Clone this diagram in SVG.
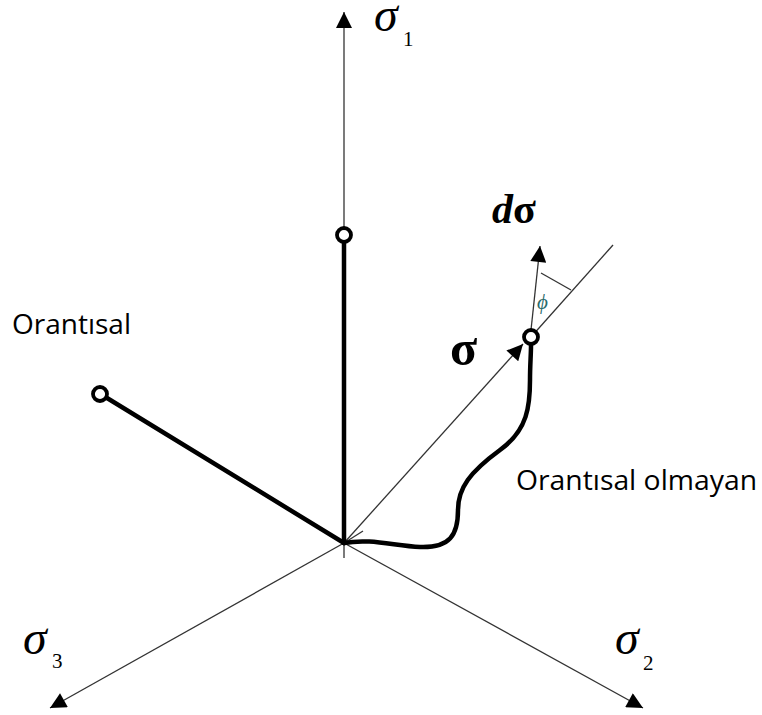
<svg xmlns="http://www.w3.org/2000/svg" width="762" height="715" viewBox="0 0 762 715">
<style>
.thin{stroke:#333;stroke-width:1.3;fill:none}
.thick{stroke:#000;stroke-width:4.5;fill:none;stroke-linecap:round}
.node{fill:#fff;stroke:#000;stroke-width:3.8}
.greek{font-family:"Liberation Serif",serif;font-style:italic;fill:#000}
.sub{font-family:"Liberation Serif",serif;fill:#000}
.lbl{font-family:"Open Sans","Liberation Sans",sans-serif;font-size:28px;fill:#000}
</style>
<defs>
<marker id="ahL" viewBox="0 0 10 10" refX="10" refY="5" markerWidth="20" markerHeight="16" markerUnits="userSpaceOnUse" orient="auto">
<path d="M0,0 L10,5 L0,10 z" fill="#000"/>
</marker>
</defs>
<g id="connectors">
<line id="axis1" class="thin" x1="344" y1="558" x2="344" y2="12" marker-end="url(#ahL)"/>
<line id="axis3" class="thin" x1="344" y1="543" x2="50" y2="708" marker-end="url(#ahL)"/>
<line id="axis2" class="thin" x1="344" y1="543" x2="643" y2="708" marker-end="url(#ahL)"/>
<line id="sigma-vec" class="thin" x1="344" y1="543" x2="523" y2="344" marker-end="url(#ahL)"/>
<line class="thin" x1="344" y1="543" x2="363" y2="531"/>
<line id="normal" class="thin" x1="531" y1="337" x2="613" y2="245"/>
<line id="dsigma" class="thin" x1="531" y1="330" x2="540" y2="246" marker-end="url(#ahL)"/>
<line id="phi-mark" class="thin" x1="541" y1="273" x2="571" y2="290"/>
<line id="prop-vert" class="thick" x1="344" y1="543" x2="344" y2="242"/>
<line id="prop-left" class="thick" x1="344" y1="543" x2="107" y2="398"/>
<path id="nonprop" class="thick" d="M344,543 C370,538 395,546 420,547 C450,548 458,535 458,510 C458,488 470,472 500,450 C528,430 530,405 530,380 C530,365 531,355 531,345"/>
</g>
<g id="n-top"><circle class="node" cx="344" cy="235" r="7"/></g>
<g id="n-left"><circle class="node" cx="100" cy="394" r="7"/></g>
<g id="n-right"><circle class="node" cx="531" cy="337" r="7"/></g>
<g id="labels">
<text class="greek" x="374" y="31" font-size="48">σ</text>
<text class="sub" x="403" y="46" font-size="21">1</text>
<text class="greek" x="23" y="654" font-size="48">σ</text>
<text class="sub" x="52" y="668" font-size="21">3</text>
<text class="greek" x="615" y="654" font-size="48">σ</text>
<text class="sub" x="643" y="670" font-size="21">2</text>
<text x="492" y="223" font-family="Liberation Serif,serif" font-size="42" font-weight="bold"><tspan font-style="italic">d</tspan>σ</text>
<text x="450" y="365" font-family="Liberation Serif,serif" font-size="50" font-weight="bold">σ</text>
<text x="537" y="309" font-family="Liberation Serif,serif" font-style="italic" font-size="21" fill="#2a6b6b">ϕ</text>
<text class="lbl" x="12" y="334" textLength="119" lengthAdjust="spacingAndGlyphs">Orantısal</text>
<text class="lbl" x="516" y="490" textLength="241" lengthAdjust="spacingAndGlyphs">Orantısal olmayan</text>
</g>
</svg>
